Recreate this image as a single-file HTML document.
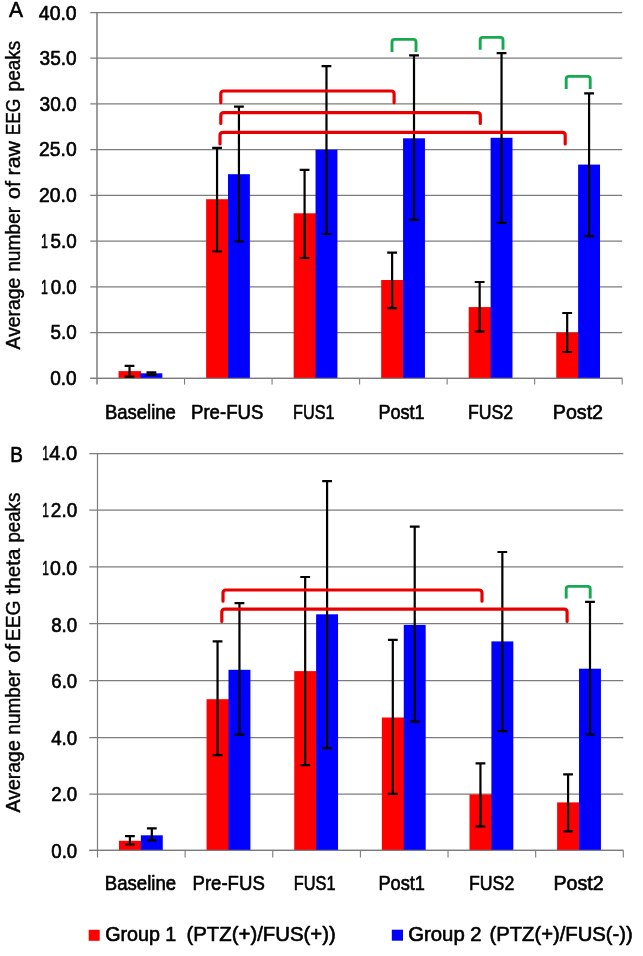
<!DOCTYPE html>
<html lang="en"><head><meta charset="utf-8"><title>Figure</title>
<style>html,body{margin:0;padding:0;background:#fff}svg{display:block}</style></head>
<body>
<svg width="643" height="956" viewBox="0 0 643 956" font-family="'Liberation Sans', sans-serif" font-size="19.6" fill="#000">
<rect width="643" height="956" fill="#fff"/>
<line x1="90.3" y1="12.50" x2="622.2" y2="12.50" stroke="#7c7c7c" stroke-width="1.25"/>
<line x1="90.3" y1="58.24" x2="622.2" y2="58.24" stroke="#7c7c7c" stroke-width="1.25"/>
<line x1="90.3" y1="103.97" x2="622.2" y2="103.97" stroke="#7c7c7c" stroke-width="1.25"/>
<line x1="90.3" y1="149.71" x2="622.2" y2="149.71" stroke="#7c7c7c" stroke-width="1.25"/>
<line x1="90.3" y1="195.45" x2="622.2" y2="195.45" stroke="#7c7c7c" stroke-width="1.25"/>
<line x1="90.3" y1="241.19" x2="622.2" y2="241.19" stroke="#7c7c7c" stroke-width="1.25"/>
<line x1="90.3" y1="286.92" x2="622.2" y2="286.92" stroke="#7c7c7c" stroke-width="1.25"/>
<line x1="90.3" y1="332.66" x2="622.2" y2="332.66" stroke="#7c7c7c" stroke-width="1.25"/>
<line x1="90.3" y1="378.40" x2="622.2" y2="378.40" stroke="#7c7c7c" stroke-width="1.25"/>
<line x1="97.0" y1="12.00" x2="97.0" y2="384.60" stroke="#7c7c7c" stroke-width="1.5"/>
<line x1="184.53" y1="378.40" x2="184.53" y2="384.60" stroke="#7c7c7c" stroke-width="1.1"/>
<line x1="272.07" y1="378.40" x2="272.07" y2="384.60" stroke="#7c7c7c" stroke-width="1.1"/>
<line x1="359.60" y1="378.40" x2="359.60" y2="384.60" stroke="#7c7c7c" stroke-width="1.1"/>
<line x1="447.13" y1="378.40" x2="447.13" y2="384.60" stroke="#7c7c7c" stroke-width="1.1"/>
<line x1="534.67" y1="378.40" x2="534.67" y2="384.60" stroke="#7c7c7c" stroke-width="1.1"/>
<line x1="622.20" y1="378.40" x2="622.20" y2="384.60" stroke="#7c7c7c" stroke-width="1.1"/>
<rect x="118.58" y="371.10" width="22.48" height="7.30" fill="#FF0000"/>
<rect x="140.47" y="373.30" width="21.88" height="5.10" fill="#0000FF"/>
<rect x="206.12" y="199.20" width="22.48" height="179.20" fill="#FF0000"/>
<rect x="228.00" y="174.20" width="21.88" height="204.20" fill="#0000FF"/>
<rect x="293.65" y="213.30" width="22.48" height="165.10" fill="#FF0000"/>
<rect x="315.53" y="149.70" width="21.88" height="228.70" fill="#0000FF"/>
<rect x="381.18" y="280.00" width="22.48" height="98.40" fill="#FF0000"/>
<rect x="403.07" y="138.30" width="21.88" height="240.10" fill="#0000FF"/>
<rect x="468.72" y="307.10" width="22.48" height="71.30" fill="#FF0000"/>
<rect x="490.60" y="137.80" width="21.88" height="240.60" fill="#0000FF"/>
<rect x="556.25" y="332.60" width="22.48" height="45.80" fill="#FF0000"/>
<rect x="578.13" y="164.60" width="21.88" height="213.80" fill="#0000FF"/>
<line x1="90.3" y1="378.40" x2="622.2" y2="378.40" stroke="#7c7c7c" stroke-width="1.25"/>
<path d="M129.53 365.90V376.70M124.62 365.90h9.8M124.62 376.70h9.8" stroke="#000" stroke-width="2.2" fill="none"/>
<path d="M151.41 372.40V374.90M146.51 372.40h9.8M146.51 374.90h9.8" stroke="#000" stroke-width="2.2" fill="none"/>
<path d="M217.06 147.90V251.50M212.16 147.90h9.8M212.16 251.50h9.8" stroke="#000" stroke-width="2.2" fill="none"/>
<path d="M238.94 106.70V241.50M234.04 106.70h9.8M234.04 241.50h9.8" stroke="#000" stroke-width="2.2" fill="none"/>
<path d="M304.59 169.80V258.00M299.69 169.80h9.8M299.69 258.00h9.8" stroke="#000" stroke-width="2.2" fill="none"/>
<path d="M326.48 66.10V234.00M321.58 66.10h9.8M321.58 234.00h9.8" stroke="#000" stroke-width="2.2" fill="none"/>
<path d="M392.13 252.60V308.10M387.23 252.60h9.8M387.23 308.10h9.8" stroke="#000" stroke-width="2.2" fill="none"/>
<path d="M414.01 55.40V219.80M409.11 55.40h9.8M409.11 219.80h9.8" stroke="#000" stroke-width="2.2" fill="none"/>
<path d="M479.66 282.00V331.70M474.76 282.00h9.8M474.76 331.70h9.8" stroke="#000" stroke-width="2.2" fill="none"/>
<path d="M501.54 53.10V222.80M496.64 53.10h9.8M496.64 222.80h9.8" stroke="#000" stroke-width="2.2" fill="none"/>
<path d="M567.19 313.00V352.00M562.29 313.00h9.8M562.29 352.00h9.8" stroke="#000" stroke-width="2.2" fill="none"/>
<path d="M589.08 93.30V236.20M584.18 93.30h9.8M584.18 236.20h9.8" stroke="#000" stroke-width="2.2" fill="none"/>
<path d="M220.80 102.70V94.00Q220.80 91.00 223.80 91.00H391.10Q394.10 91.00 394.10 94.00V102.70" stroke="#E80000" stroke-width="3.2" fill="none" stroke-linecap="round"/>
<path d="M220.80 123.50V115.70Q220.80 112.70 223.80 112.70H477.30Q480.30 112.70 480.30 115.70V123.50" stroke="#E80000" stroke-width="3.2" fill="none" stroke-linecap="round"/>
<path d="M220.00 144.00V135.40Q220.00 132.40 223.00 132.40H562.20Q565.20 132.40 565.20 135.40V144.00" stroke="#E80000" stroke-width="3.2" fill="none" stroke-linecap="round"/>
<path d="M392.00 52.00V42.00Q392.00 39.40 394.60 39.40H413.40Q416.00 39.40 416.00 42.00V52.00" stroke="#16A950" stroke-width="2.9" fill="none" stroke-linecap="butt"/>
<path d="M480.20 49.70V40.00Q480.20 37.40 482.80 37.40H500.40Q503.00 37.40 503.00 40.00V49.70" stroke="#16A950" stroke-width="2.9" fill="none" stroke-linecap="butt"/>
<path d="M566.20 89.00V79.00Q566.20 76.40 568.80 76.40H587.60Q590.20 76.40 590.20 79.00V89.00" stroke="#16A950" stroke-width="2.9" fill="none" stroke-linecap="butt"/>
<line x1="89.3" y1="453.50" x2="623.3" y2="453.50" stroke="#7c7c7c" stroke-width="1.25"/>
<line x1="89.3" y1="510.20" x2="623.3" y2="510.20" stroke="#7c7c7c" stroke-width="1.25"/>
<line x1="89.3" y1="566.80" x2="623.3" y2="566.80" stroke="#7c7c7c" stroke-width="1.25"/>
<line x1="89.3" y1="623.50" x2="623.3" y2="623.50" stroke="#7c7c7c" stroke-width="1.25"/>
<line x1="89.3" y1="680.50" x2="623.3" y2="680.50" stroke="#7c7c7c" stroke-width="1.25"/>
<line x1="89.3" y1="737.50" x2="623.3" y2="737.50" stroke="#7c7c7c" stroke-width="1.25"/>
<line x1="89.3" y1="794.20" x2="623.3" y2="794.20" stroke="#7c7c7c" stroke-width="1.25"/>
<line x1="89.3" y1="850.40" x2="623.3" y2="850.40" stroke="#7c7c7c" stroke-width="1.25"/>
<line x1="97.5" y1="453.00" x2="97.5" y2="857.40" stroke="#7c7c7c" stroke-width="1.2"/>
<line x1="185.13" y1="850.40" x2="185.13" y2="857.40" stroke="#7c7c7c" stroke-width="1.1"/>
<line x1="272.77" y1="850.40" x2="272.77" y2="857.40" stroke="#7c7c7c" stroke-width="1.1"/>
<line x1="360.40" y1="850.40" x2="360.40" y2="857.40" stroke="#7c7c7c" stroke-width="1.1"/>
<line x1="448.03" y1="850.40" x2="448.03" y2="857.40" stroke="#7c7c7c" stroke-width="1.1"/>
<line x1="535.67" y1="850.40" x2="535.67" y2="857.40" stroke="#7c7c7c" stroke-width="1.1"/>
<line x1="623.30" y1="850.40" x2="623.30" y2="857.40" stroke="#7c7c7c" stroke-width="1.1"/>
<rect x="118.96" y="840.80" width="22.51" height="9.60" fill="#FF0000"/>
<rect x="140.87" y="835.30" width="21.91" height="15.10" fill="#0000FF"/>
<rect x="206.59" y="699.20" width="22.51" height="151.20" fill="#FF0000"/>
<rect x="228.50" y="669.80" width="21.91" height="180.60" fill="#0000FF"/>
<rect x="294.23" y="671.10" width="22.51" height="179.30" fill="#FF0000"/>
<rect x="316.13" y="614.30" width="21.91" height="236.10" fill="#0000FF"/>
<rect x="381.86" y="717.50" width="22.51" height="132.90" fill="#FF0000"/>
<rect x="403.77" y="624.90" width="21.91" height="225.50" fill="#0000FF"/>
<rect x="469.49" y="794.50" width="22.51" height="55.90" fill="#FF0000"/>
<rect x="491.40" y="641.40" width="21.91" height="209.00" fill="#0000FF"/>
<rect x="557.12" y="802.40" width="22.51" height="48.00" fill="#FF0000"/>
<rect x="579.03" y="668.70" width="21.91" height="181.70" fill="#0000FF"/>
<line x1="89.3" y1="850.40" x2="623.3" y2="850.40" stroke="#7c7c7c" stroke-width="1.25"/>
<path d="M129.91 836.10V844.50M125.01 836.10h9.8M125.01 844.50h9.8" stroke="#000" stroke-width="2.2" fill="none"/>
<path d="M151.82 828.30V840.40M146.92 828.30h9.8M146.92 840.40h9.8" stroke="#000" stroke-width="2.2" fill="none"/>
<path d="M217.55 641.30V755.20M212.65 641.30h9.8M212.65 755.20h9.8" stroke="#000" stroke-width="2.2" fill="none"/>
<path d="M239.45 603.10V734.60M234.55 603.10h9.8M234.55 734.60h9.8" stroke="#000" stroke-width="2.2" fill="none"/>
<path d="M305.18 577.00V765.10M300.28 577.00h9.8M300.28 765.10h9.8" stroke="#000" stroke-width="2.2" fill="none"/>
<path d="M327.09 481.10V748.20M322.19 481.10h9.8M322.19 748.20h9.8" stroke="#000" stroke-width="2.2" fill="none"/>
<path d="M392.81 639.80V793.80M387.91 639.80h9.8M387.91 793.80h9.8" stroke="#000" stroke-width="2.2" fill="none"/>
<path d="M414.72 526.70V721.60M409.82 526.70h9.8M409.82 721.60h9.8" stroke="#000" stroke-width="2.2" fill="none"/>
<path d="M480.45 763.40V826.40M475.55 763.40h9.8M475.55 826.40h9.8" stroke="#000" stroke-width="2.2" fill="none"/>
<path d="M502.35 552.00V731.20M497.45 552.00h9.8M497.45 731.20h9.8" stroke="#000" stroke-width="2.2" fill="none"/>
<path d="M568.08 774.30V831.30M563.18 774.30h9.8M563.18 831.30h9.8" stroke="#000" stroke-width="2.2" fill="none"/>
<path d="M589.99 601.80V734.50M585.09 601.80h9.8M585.09 734.50h9.8" stroke="#000" stroke-width="2.2" fill="none"/>
<path d="M223.00 601.20V593.00Q223.00 590.00 226.00 590.00H479.00Q482.00 590.00 482.00 593.00V601.20" stroke="#E80000" stroke-width="3.2" fill="none" stroke-linecap="round"/>
<path d="M221.80 621.50V612.10Q221.80 609.10 224.80 609.10H564.10Q567.10 609.10 567.10 612.10V621.50" stroke="#E80000" stroke-width="3.2" fill="none" stroke-linecap="round"/>
<path d="M566.20 598.60V589.00Q566.20 586.40 568.80 586.40H587.60Q590.20 586.40 590.20 589.00V598.60" stroke="#16A950" stroke-width="2.9" fill="none" stroke-linecap="butt"/>
<rect x="88.7" y="929.8" width="11" height="11" fill="#FF0000"/>
<rect x="391.8" y="929.7" width="11.2" height="11" fill="#0000FF"/>
<g stroke="#000" stroke-width="0.65" stroke-linejoin="round">
<text id="ty0" font-size="20.8" y="19.50" x="38.85" textLength="37.85" lengthAdjust="spacingAndGlyphs">40.0</text>
<text id="ty1" font-size="20.8" y="64.90" x="39.60" textLength="37.10" lengthAdjust="spacingAndGlyphs">35.0</text>
<text id="ty2" font-size="20.8" y="110.70" x="39.50" textLength="37.20" lengthAdjust="spacingAndGlyphs">30.0</text>
<text id="ty3" font-size="20.8" y="156.40" x="39.05" textLength="37.65" lengthAdjust="spacingAndGlyphs">25.0</text>
<text id="ty4" font-size="20.8" y="202.10" x="39.05" textLength="37.65" lengthAdjust="spacingAndGlyphs">20.0</text>
<text font-size="20.8" y="247.80"><tspan id="ty5a" font-size="20.8" x="40.90" textLength="6.90" lengthAdjust="spacingAndGlyphs">1</tspan><tspan id="ty5b" font-size="20.8" x="50.50" textLength="26.20" lengthAdjust="spacingAndGlyphs">5.0</tspan></text>
<text font-size="20.8" y="293.50"><tspan id="ty6a" font-size="20.8" x="40.90" textLength="6.90" lengthAdjust="spacingAndGlyphs">1</tspan><tspan id="ty6b" font-size="20.8" x="50.70" textLength="26.00" lengthAdjust="spacingAndGlyphs">0.0</tspan></text>
<text id="ty7" font-size="20.8" y="339.40" x="50.50" textLength="26.20" lengthAdjust="spacingAndGlyphs">5.0</text>
<text id="ty8" font-size="20.8" y="384.90" x="50.20" textLength="26.50" lengthAdjust="spacingAndGlyphs">0.0</text>
<text font-size="20.8" y="460.40"><tspan id="by0a" font-size="20.8" x="42.25" textLength="6.65" lengthAdjust="spacingAndGlyphs">1</tspan><tspan id="by0b" font-size="20.8" x="49.25" textLength="27.95" lengthAdjust="spacingAndGlyphs">4.0</tspan></text>
<text font-size="20.8" y="516.90"><tspan id="by1a" font-size="20.8" x="42.25" textLength="6.65" lengthAdjust="spacingAndGlyphs">1</tspan><tspan id="by1b" font-size="20.8" x="50.85" textLength="26.35" lengthAdjust="spacingAndGlyphs">2.0</tspan></text>
<text font-size="20.8" y="574.50"><tspan id="by2a" font-size="20.8" x="42.25" textLength="6.65" lengthAdjust="spacingAndGlyphs">1</tspan><tspan id="by2b" font-size="20.8" x="50.00" textLength="27.20" lengthAdjust="spacingAndGlyphs">0.0</tspan></text>
<text id="by3" font-size="20.8" y="631.50" x="51.20" textLength="26.00" lengthAdjust="spacingAndGlyphs">8.0</text>
<text id="by4" font-size="20.8" y="688.00" x="51.35" textLength="25.85" lengthAdjust="spacingAndGlyphs">6.0</text>
<text id="by5" font-size="20.8" y="744.50" x="51.15" textLength="26.05" lengthAdjust="spacingAndGlyphs">4.0</text>
<text id="by6" font-size="20.8" y="801.10" x="51.25" textLength="25.95" lengthAdjust="spacingAndGlyphs">2.0</text>
<text id="by7" font-size="20.8" y="858.10" x="51.30" textLength="25.90" lengthAdjust="spacingAndGlyphs">0.0</text>
<text id="tx0" font-size="20.2" y="418.60" x="104.95" textLength="70.95" lengthAdjust="spacingAndGlyphs">Baseline</text>
<text id="tx1" font-size="20.8" y="418.60" x="191.05" textLength="72.25" lengthAdjust="spacingAndGlyphs">Pre-FUS</text>
<text id="tx2" font-size="21.0" y="418.60" x="293.00" textLength="41.60" lengthAdjust="spacingAndGlyphs">FUS1</text>
<text id="tx3" font-size="20.2" y="418.60" x="378.40" textLength="46.30" lengthAdjust="spacingAndGlyphs">Post1</text>
<text id="tx4" font-size="21.0" y="418.60" x="467.90" textLength="45.20" lengthAdjust="spacingAndGlyphs">FUS2</text>
<text id="tx5" font-size="20.2" y="418.60" x="552.85" textLength="50.20" lengthAdjust="spacingAndGlyphs">Post2</text>
<text id="bx0" font-size="20.2" y="889.90" x="104.80" textLength="71.25" lengthAdjust="spacingAndGlyphs">Baseline</text>
<text id="bx1" font-size="20.8" y="889.90" x="192.50" textLength="72.30" lengthAdjust="spacingAndGlyphs">Pre-FUS</text>
<text id="bx2" font-size="21.0" y="889.90" x="293.70" textLength="41.85" lengthAdjust="spacingAndGlyphs">FUS1</text>
<text id="bx3" font-size="20.2" y="889.90" x="378.40" textLength="46.60" lengthAdjust="spacingAndGlyphs">Post1</text>
<text id="bx4" font-size="21.0" y="889.90" x="468.95" textLength="45.35" lengthAdjust="spacingAndGlyphs">FUS2</text>
<text id="bx5" font-size="20.2" y="889.90" x="553.50" textLength="50.20" lengthAdjust="spacingAndGlyphs">Post2</text>
<text id="A" font-size="21.6" y="17.20" x="9.00" textLength="14.00" lengthAdjust="spacingAndGlyphs">A</text>
<text id="B" font-size="21.6" y="461.50" x="10.25" textLength="12.65" lengthAdjust="spacingAndGlyphs">B</text>
<text font-size="20.6" y="941.20"><tspan id="lg1a" font-size="20.6" x="105.15" textLength="71.20" lengthAdjust="spacingAndGlyphs">Group 1</tspan> <tspan id="lg1b" font-size="21.0" x="186.50" textLength="149.30" lengthAdjust="spacingAndGlyphs">(PTZ(+)/FUS(+))</tspan></text>
<text font-size="20.6" y="941.20"><tspan id="lg2a" font-size="20.6" x="408.25" textLength="73.40" lengthAdjust="spacingAndGlyphs">Group 2</tspan> <tspan id="lg2b" font-size="21.0" x="489.50" textLength="143.30" lengthAdjust="spacingAndGlyphs">(PTZ(+)/FUS(-))</tspan></text>
<text transform="rotate(-90)" y="20.15" stroke-width="0.4"><tspan id="r1a" x="-349.40" textLength="71.70" lengthAdjust="spacingAndGlyphs">Average</tspan> <tspan id="r1b" x="-271.80" textLength="65.05" lengthAdjust="spacingAndGlyphs">number</tspan> <tspan id="r1c" x="-199.25" textLength="18.30" lengthAdjust="spacingAndGlyphs">of</tspan> <tspan id="r1d" x="-175.45" textLength="34.35" lengthAdjust="spacingAndGlyphs">raw</tspan> <tspan id="r1e" x="-135.35" textLength="36.70" lengthAdjust="spacingAndGlyphs">EEG</tspan> <tspan id="r1f" x="-91.40" textLength="50.55" lengthAdjust="spacingAndGlyphs">peaks</tspan></text>
<text transform="rotate(-90)" y="20.15" stroke-width="0.4"><tspan id="r2a" x="-812.40" textLength="72.15" lengthAdjust="spacingAndGlyphs">Average</tspan> <tspan id="r2b" x="-734.65" textLength="64.50" lengthAdjust="spacingAndGlyphs">number</tspan> <tspan id="r2c" x="-662.90" textLength="19.05" lengthAdjust="spacingAndGlyphs">of</tspan> <tspan id="r2d" x="-641.25" textLength="40.80" lengthAdjust="spacingAndGlyphs">EEG</tspan> <tspan id="r2e" x="-594.60" textLength="46.10" lengthAdjust="spacingAndGlyphs">theta</tspan> <tspan id="r2f" x="-542.60" textLength="49.85" lengthAdjust="spacingAndGlyphs">peaks</tspan></text>
</g>
</svg>
</body></html>
